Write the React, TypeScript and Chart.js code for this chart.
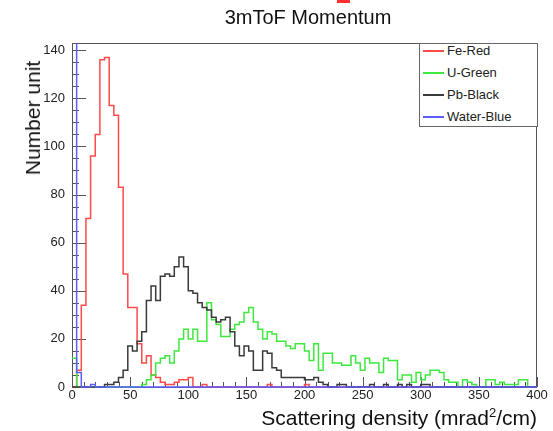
import React, { useEffect, useRef } from "react";
import { Chart, registerables } from "chart.js";

Chart.register(...registerables);

// ---- data (bin width 4, range 0..400, 100 bins) ----
const BIN_WIDTH = 4;
const X_MIN = 0;
const X_MAX = 400;
const Y_MAX = 143;
const X_TICK_STEP = 50;
const Y_TICK_STEP = 20;

const seriesNames = ["Fe-Red", "U-Green", "Pb-Black", "Water-Blue"];
const seriesColors = ["#ff4a4a", "#3ee83e", "#3a3a3a", "#5c5cff"];

const feRed = [
  0, 7, 34, 70, 96, 105, 136, 137, 117, 113,
  83, 47, 33, 33, 18, 10, 13, 5, 4, 2,
  1, 1, 2, 3, 3, 4, 0, 0, 1, 0,
  0, 0, 0, 0, 0, 0, 0, 0, 0, 0,
  0, 0, 1, 0, 0, 0, 0, 0, 0, 0,
  1, 0, 0, 0, 0, 0, 0, 0, 0, 0,
  0, 0, 0, 0, 0, 0, 0, 0, 0, 0,
  0, 0, 0, 0, 0, 0, 0, 0, 0, 0,
  0, 0, 0, 0, 0, 0, 0, 0, 0, 0,
  0, 0, 0, 0, 0, 0, 0, 0, 0, 0,
];

const uGreen = [
  12, 0, 0, 0, 0, 0, 0, 0, 0, 0,
  0, 0, 0, 0, 0, 1, 3, 5, 10, 12,
  13, 10, 15, 20, 24, 20, 24, 19, 19, 35,
  28, 26, 21, 21, 24, 26, 27, 31, 33, 27,
  24, 20, 23, 22, 19, 19, 17, 16, 18, 18,
  15, 11, 18, 7, 14, 14, 10, 10, 9, 9,
  13, 10, 7, 12, 10, 10, 6, 12, 11, 11,
  3, 5, 5, 2, 6, 3, 5, 7, 7, 6,
  3, 2, 2, 0, 3, 2, 1, 0, 0, 3,
  3, 1, 2, 1, 1, 1, 3, 3, 0, 0,
];

const pbBlack = [
  0, 0, 0, 0, 0, 0, 0, 1, 1, 2,
  4, 7, 17, 15, 19, 23, 36, 42, 36, 46,
  47, 46, 50, 54, 50, 40, 39, 35, 33, 32,
  29, 27, 28, 29, 23, 17, 13, 17, 15, 7,
  7, 15, 14, 8, 7, 4, 4, 4, 4, 4,
  3, 3, 4, 2, 1, 0, 0, 1, 1, 0,
  0, 0, 0, 0, 1, 0, 0, 1, 0, 0,
  1, 0, 1, 0, 0, 1, 1, 0, 0, 0,
  0, 0, 0, 0, 0, 0, 0, 0, 0, 0,
  0, 0, 0, 0, 0, 0, 0, 0, 0, 0,
];

// first bin is far off scale
const waterBlue = [
  1000, 6, 0, 0, 1, 0, 0, 0, 0, 0,
  0, 0, 0, 0, 0, 0, 0, 0, 0, 0,
  0, 0, 0, 0, 0, 0, 0, 0, 0, 0,
  0, 0, 0, 0, 0, 0, 0, 0, 0, 0,
  0, 0, 0, 0, 0, 0, 0, 0, 0, 0,
  0, 0, 0, 0, 0, 0, 0, 0, 0, 0,
  0, 0, 0, 0, 0, 0, 0, 0, 0, 0,
  0, 0, 0, 0, 0, 0, 0, 0, 0, 0,
  0, 0, 0, 0, 0, 0, 0, 0, 0, 0,
  0, 0, 0, 0, 0, 0, 0, 0, 0, 0,
];

const FONT = '"Liberation Sans", Arial, Helvetica, sans-serif';

function toSteps(counts: number[]) {
  const pts = counts.map((c, i) => ({ x: X_MIN + i * BIN_WIDTH, y: c }));
  pts.push({ x: X_MIN + counts.length * BIN_WIDTH, y: counts[counts.length - 1] });
  return pts;
}

const frameTicks = {
  id: "frameTicks",
  beforeDatasetsDraw(chart: any) {
    const { ctx, chartArea: a, scales } = chart;
    const x = scales.x;
    const y = scales.y;
    ctx.save();
    ctx.strokeStyle = "#555";
    ctx.lineWidth = 1;
    ctx.strokeRect(a.left + 0.5, a.top + 0.5, a.right - a.left - 1, a.bottom - a.top);
    ctx.beginPath();
    for (let v = X_MIN; v <= X_MAX; v += 10) {
      const px = Math.round(x.getPixelForValue(v)) + 0.5;
      const len = v % X_TICK_STEP === 0 ? 10 : 5;
      ctx.moveTo(px, a.bottom);
      ctx.lineTo(px, a.bottom - len);
    }
    for (let v = 0; v <= Y_MAX; v += 5) {
      const py = Math.round(y.getPixelForValue(v)) + 0.5;
      const len = v % Y_TICK_STEP === 0 ? 14 : 7;
      ctx.moveTo(a.left, py);
      ctx.lineTo(a.left + len, py);
    }
    ctx.stroke();
    ctx.restore();
  },
};

export default function App() {
  const ref = useRef<HTMLCanvasElement | null>(null);

  useEffect(() => {
    if (!ref.current) return;
    const series = [feRed, uGreen, pbBlack, waterBlue];
    // draw order: later in this list = drawn first; water on top
    const datasets = [3, 2, 1, 0].map((k) => ({
      label: seriesNames[k],
      data: toSteps(series[k]),
      borderColor: seriesColors[k],
      backgroundColor: seriesColors[k],
      borderWidth: 1.5,
      stepped: true as const,
      pointRadius: 0,
      fill: false,
      tension: 0,
      clip: { left: 2, top: 0, right: 2, bottom: 3 },
    }));

    const chart = new Chart(ref.current, {
      type: "line",
      data: { datasets },
      plugins: [frameTicks],
      options: {
        animation: false,
        responsive: false,
        devicePixelRatio: 1,
        layout: { padding: { top: 43, right: 16, left: 0, bottom: 0 } },
        plugins: {
          legend: { display: false },
          tooltip: { enabled: false },
          title: { display: false },
        },
        scales: {
          x: {
            type: "linear",
            min: X_MIN,
            max: X_MAX,
            grid: { display: false, drawTicks: false },
            border: { display: false },
            ticks: {
              stepSize: X_TICK_STEP,
              includeBounds: false,
              autoSkip: false,
              maxRotation: 0,
              padding: 1,
              color: "#222",
              font: { family: FONT, size: 13 },
            },
            afterFit: (s: any) => {
              s.height = 44;
            },
          },
          y: {
            type: "linear",
            min: 0,
            max: Y_MAX,
            grid: { display: false, drawTicks: false },
            border: { display: false },
            ticks: {
              stepSize: Y_TICK_STEP,
              includeBounds: false,
              padding: 7,
              color: "#222",
              font: { family: FONT, size: 13 },
            },
            afterFit: (s: any) => {
              s.width = 72;
            },
          },
        },
      },
    });
    return () => chart.destroy();
  }, []);

  const legendRows = seriesNames.map((name, i) => (
    <div
      key={name}
      style={{ position: "absolute", left: 0, top: -1 + i * 22, height: 16, width: 117 }}
    >
      <div
        style={{
          position: "absolute",
          left: 3,
          top: 7,
          width: 21,
          height: 1.5,
          background: seriesColors[i],
        }}
      />
      <div
        style={{
          position: "absolute",
          left: 27,
          top: 0,
          fontSize: 13,
          lineHeight: "16px",
          color: "#222",
          whiteSpace: "nowrap",
        }}
      >
        {name}
      </div>
    </div>
  ));

  return (
    <div
      style={{
        position: "fixed",
        left: 0,
        top: 0,
        width: 553,
        height: 431,
        background: "#fff",
        overflow: "hidden",
        fontFamily: FONT,
      }}
    >
      <div style={{ position: "absolute", left: 337, top: 0, width: 13, height: 3, background: "#ff3030" }} />
      <canvas ref={ref} width={553} height={431} style={{ position: "absolute", left: 0, top: 0 }} />
      <div
        style={{
          position: "absolute",
          left: 308,
          top: 5,
          transform: "translateX(-50%)",
          fontSize: 20,
          lineHeight: "24px",
          color: "#111",
          whiteSpace: "nowrap",
        }}
      >
        3mToF Momentum
      </div>
      <div
        style={{
          position: "absolute",
          left: 33,
          top: 118,
          transform: "translate(-50%, -50%) rotate(-90deg)",
          fontSize: 21,
          lineHeight: "24px",
          color: "#111",
          whiteSpace: "nowrap",
        }}
      >
        Number unit
      </div>
      <div
        style={{
          position: "absolute",
          right: 16,
          top: 406,
          fontSize: 21,
          lineHeight: "24px",
          color: "#111",
          whiteSpace: "nowrap",
        }}
      >
        Scattering density (mrad<sup style={{ fontSize: 13, verticalAlign: "8px", lineHeight: 0 }}>2</sup>/cm)
      </div>
      <div
        style={{
          position: "absolute",
          left: 419,
          top: 43,
          width: 117,
          height: 82,
          border: "1px solid #666",
          background: "#fff",
          boxSizing: "content-box",
        }}
      >
        {legendRows}
      </div>
    </div>
  );
}
